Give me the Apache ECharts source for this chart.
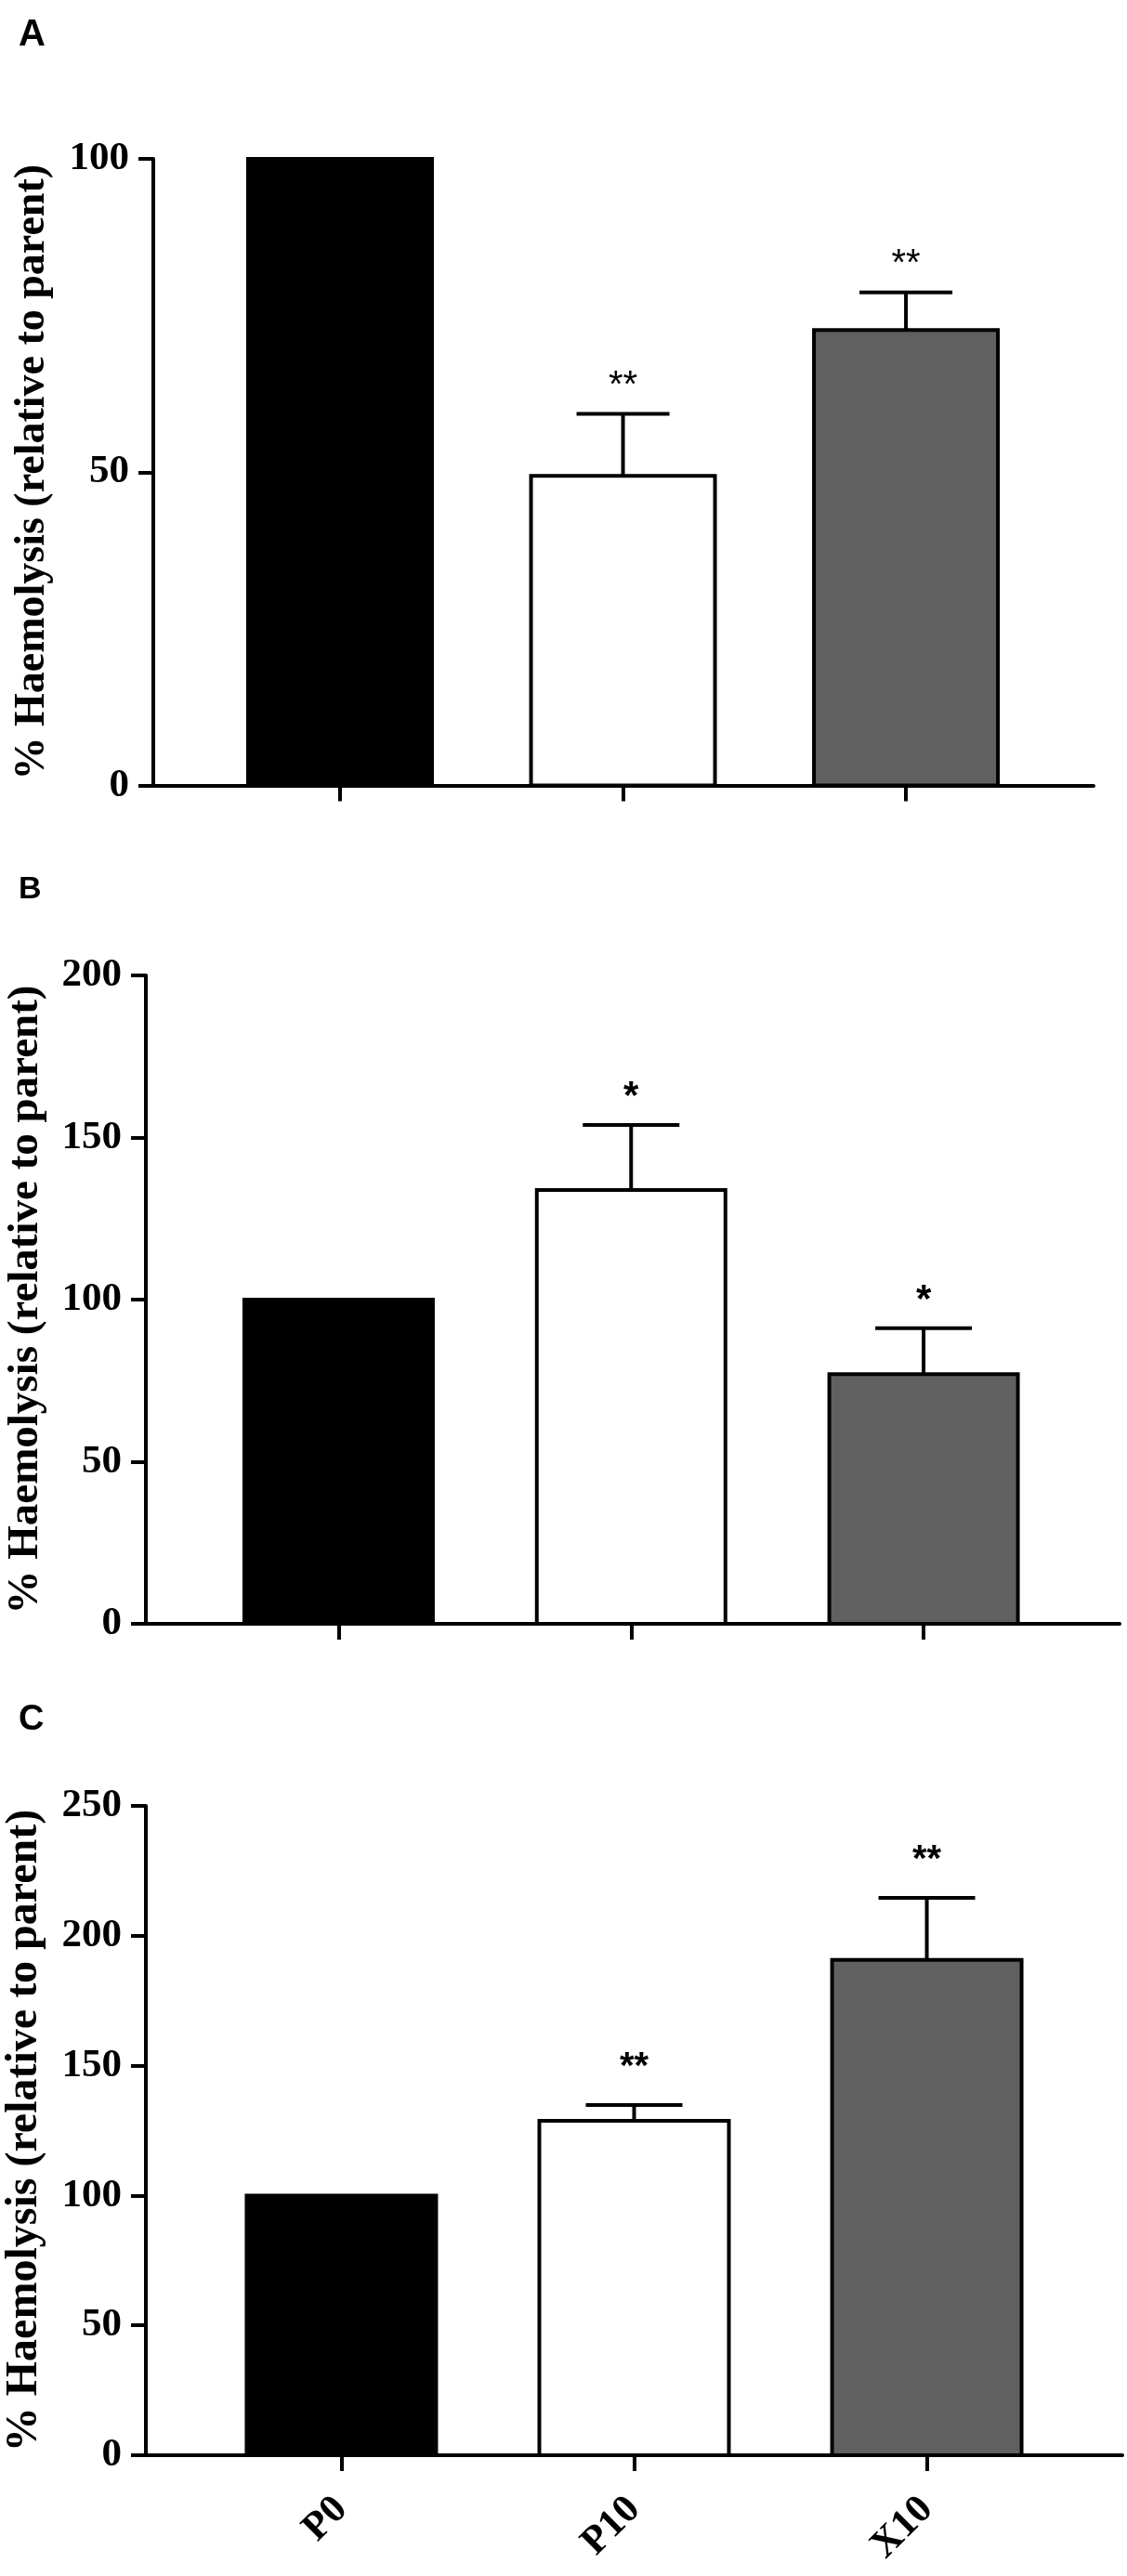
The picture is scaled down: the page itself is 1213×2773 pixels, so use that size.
<!DOCTYPE html>
<html>
<head>
<meta charset="utf-8">
<script src="https://cdn.jsdelivr.net/npm/echarts@6/dist/echarts.min.js"></script>
<style>
  html, body { margin: 0; padding: 0; background: #fff; }
  #chart { width: 1213px; height: 2773px; }
</style>
</head>
<body>
<div id="chart"></div>
<script>
// groups on the x axis
var groups = ['P0', 'P10', 'X10'];
var barColors = ['#000000', '#ffffff', '#606060'];

// panel A
var meanA = [100, 49.4, 72.7];
var semA = [0, 9.9, 6.0];
var sigA = ['', '**', '**'];

// panel B
var meanB = [100, 133.8, 77.0];
var semB = [0, 20.1, 14.2];
var sigB = ['', '*', '*'];

// panel C
var meanC = [100, 128.8, 190.7];
var semC = [0, 6.0, 23.9];
var sigC = ['', '**', '**'];

var yMaxes = [100, 200, 250];
var yTitle = '% Haemolysis (relative to parent)';

var serif = "'Liberation Serif', 'Times New Roman', serif";
var sans = "'Liberation Sans', Arial, sans-serif";

// layout per panel (pixels)
var panels = [
    { letter: 'A', letterY: 38, letterSize: 40, grid: { left: 165, top: 171, width: 1012, height: 674.5, outerBoundsMode: 'none' },
      xMin: -0.660, xMax: 2.663, mean: meanA, sem: semA, sig: sigA, yMax: yMaxes[0],
      barWidth: 198, capHalf: 50, starGap: 39, starSize: 40, starWeight: 'normal', nameSize: 46, nameGap: 107, labels: false },
    { letter: 'B', letterY: 958, letterSize: 34, grid: { left: 157, top: 1050, width: 1048, height: 698, outerBoundsMode: 'none' },
      xMin: -0.659, xMax: 2.670, mean: meanB, sem: semB, sig: sigB, yMax: yMaxes[1],
      barWidth: 203, capHalf: 52, starGap: 39, starSize: 42, starWeight: 'bold', nameSize: 47, nameGap: 106, labels: false },
    { letter: 'C', letterY: 1852, letterSize: 38, grid: { left: 157, top: 1944, width: 1051, height: 699, outerBoundsMode: 'none' },
      xMin: -0.668, xMax: 2.668, mean: meanC, sem: semC, sig: sigC, yMax: yMaxes[2],
      barWidth: 204, capHalf: 52, starGap: 49, starSize: 40, starWeight: 'bold', nameSize: 48, nameGap: 106, labels: true }
];

var grids = [], xAxes = [], yAxes = [], series = [], graphics = [];

panels.forEach(function (p, k) {
    grids.push(p.grid);

    xAxes.push({
        type: 'value', gridIndex: k, min: p.xMin, max: p.xMax,
        splitLine: { show: false },
        axisLine: { show: true, onZero: false, lineStyle: { color: '#000', width: 4 } },
        axisTick: { show: true, customValues: [0, 1, 2], length: 17, lineStyle: { color: '#000', width: 4 } },
        axisLabel: {
            show: p.labels, customValues: [0, 1, 2], rotate: 45, margin: 52,
            fontFamily: serif, fontWeight: 'bold', fontSize: 43, color: '#000',
            formatter: function (v) { return groups[Math.round(v)] || ''; }
        }
    });

    yAxes.push({
        type: 'value', gridIndex: k, min: 0, max: p.yMax, interval: 50,
        name: yTitle, nameLocation: 'middle', nameGap: p.nameGap, nameMoveOverlap: false,
        nameTextStyle: { fontFamily: serif, fontWeight: 'bold', fontSize: p.nameSize, color: '#000' },
        splitLine: { show: false },
        axisLine: { show: true, onZero: false, lineStyle: { color: '#000', width: 4 } },
        axisTick: { show: true, length: 16, lineStyle: { color: '#000', width: 4 } },
        axisLabel: { margin: 26, fontFamily: serif, fontWeight: 'bold', fontSize: 43, color: '#000' }
    });

    // bars drawn as rects so the value axis keeps its exact extent
    series.push({
        type: 'custom', xAxisIndex: k, yAxisIndex: k,
        data: p.mean.map(function (m, i) { return [i, m]; }),
        renderItem: function (params, api) {
            var x = api.value(0), m = api.value(1);
            var top = api.coord([x, m]);
            var base = api.coord([x, 0]);
            return {
                type: 'rect',
                shape: { x: top[0] - p.barWidth / 2, y: top[1], width: p.barWidth, height: base[1] - top[1] },
                style: { fill: barColors[params.dataIndex], stroke: '#000', lineWidth: 4 }
            };
        },
        z: 2
    });

    // error bars (mean + SEM) with the significance stars above the cap
    series.push({
        type: 'custom', xAxisIndex: k, yAxisIndex: k,
        data: p.mean.map(function (m, i) { return [i, m, p.sem[i]]; }),
        renderItem: function (params, api) {
            var x = api.value(0), m = api.value(1), e = api.value(2);
            if (!e) return null;
            var base = api.coord([x, m]);
            var top = api.coord([x, m + e]);
            var line = { stroke: '#000', lineWidth: 4 };
            var star = p.sig[params.dataIndex];
            return {
                type: 'group',
                children: [
                    { type: 'line', shape: { x1: base[0], y1: base[1], x2: top[0], y2: top[1] }, style: line },
                    { type: 'line', shape: { x1: top[0] - p.capHalf, y1: top[1], x2: top[0] + p.capHalf, y2: top[1] }, style: line },
                    { type: 'text', style: {
                        text: star, x: top[0], y: top[1] - p.starGap + 0.23 * p.starSize,
                        align: 'center', verticalAlign: 'middle',
                        fontFamily: sans, fontWeight: p.starWeight, fontSize: p.starSize, fill: '#000'
                    } }
                ]
            };
        },
        z: 3
    });

    graphics.push({
        type: 'text', left: 20, top: p.letterY - p.letterSize / 2,
        style: { text: p.letter, fontFamily: sans, fontWeight: 'bold', fontSize: p.letterSize, fill: '#000' }
    });
});

var chart = echarts.init(document.getElementById('chart'));
chart.setOption({
    animation: false,
    backgroundColor: '#fff',
    grid: grids,
    xAxis: xAxes,
    yAxis: yAxes,
    series: series,
    graphic: graphics
});
</script>
</body>
</html>
